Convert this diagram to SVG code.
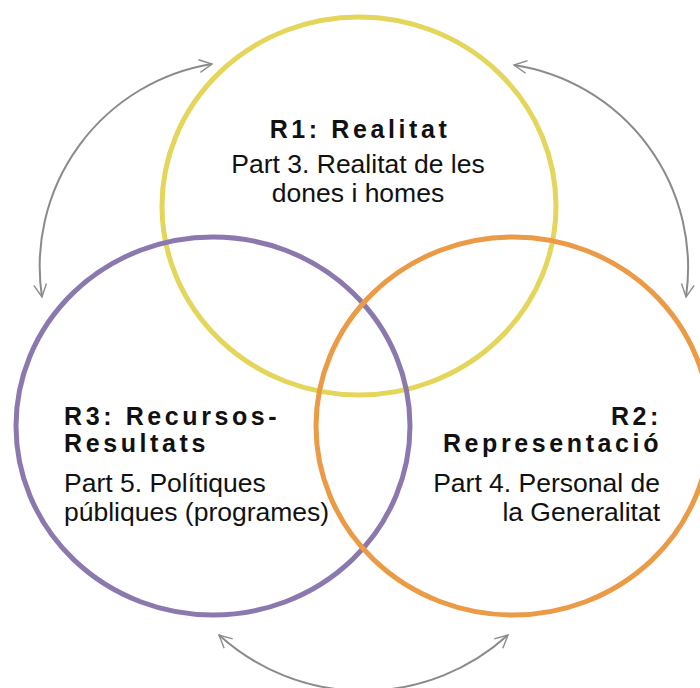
<svg xmlns="http://www.w3.org/2000/svg" width="700" height="688" viewBox="0 0 700 688">
<defs>
<style>
.ring{fill:none;stroke-width:5}
.arc{fill:none;stroke:#8a8a8e;stroke-width:2;marker-start:url(#chev);marker-end:url(#chev)}
.h{font-family:"Liberation Sans",Arial,sans-serif;font-weight:bold;font-size:25px;letter-spacing:3.6px;fill:#111}
.t{font-family:"Liberation Sans",Arial,sans-serif;font-size:26.5px;fill:#111}
</style>
<marker id="chev" viewBox="0 0 20 20" refX="18" refY="10" markerWidth="17" markerHeight="17" markerUnits="userSpaceOnUse" orient="auto-start-reverse">
<path d="M3 2.5 L18 10 L3 17.5" fill="none" stroke="#8a8a8e" stroke-width="1.6"/>
</marker>
</defs>
<rect width="700" height="688" fill="#fff"/>
<g id="connectors">
<path class="arc" d="M212 64 A205 205 0 0 0 42 297"/>
<path class="arc" d="M514 65 A205 205 0 0 1 686 297"/>
<path class="arc" d="M219 635 A215 215 0 0 0 508 635"/>
</g>
<g id="r1">
<ellipse class="ring" cx="359" cy="206" rx="197" ry="189" stroke="#E4D55B"/>
<text class="h" x="360" y="138" text-anchor="middle">R1: Realitat</text>
<text class="t" x="358" y="173" text-anchor="middle">Part 3. Realitat de les</text>
<text class="t" x="358" y="202" text-anchor="middle">dones i homes</text>
</g>
<g id="r3">
<ellipse class="ring" cx="213" cy="426" rx="197" ry="189" stroke="#8B78AE"/>
<text class="h" x="64" y="425">R3: Recursos-</text>
<text class="h" x="64" y="452">Resultats</text>
<text class="t" x="64" y="492">Part 5. Polítiques</text>
<text class="t" x="64" y="521">públiques (programes)</text>
</g>
<g id="r2">
<ellipse class="ring" cx="513" cy="426" rx="197" ry="189" stroke="#EB9A45"/>
<text class="h" x="662" y="425" text-anchor="end">R2:</text>
<text class="h" x="662" y="452" text-anchor="end">Representació</text>
<text class="t" x="660" y="492" text-anchor="end">Part 4. Personal de</text>
<text class="t" x="660" y="521" text-anchor="end">la Generalitat</text>
</g>
</svg>
